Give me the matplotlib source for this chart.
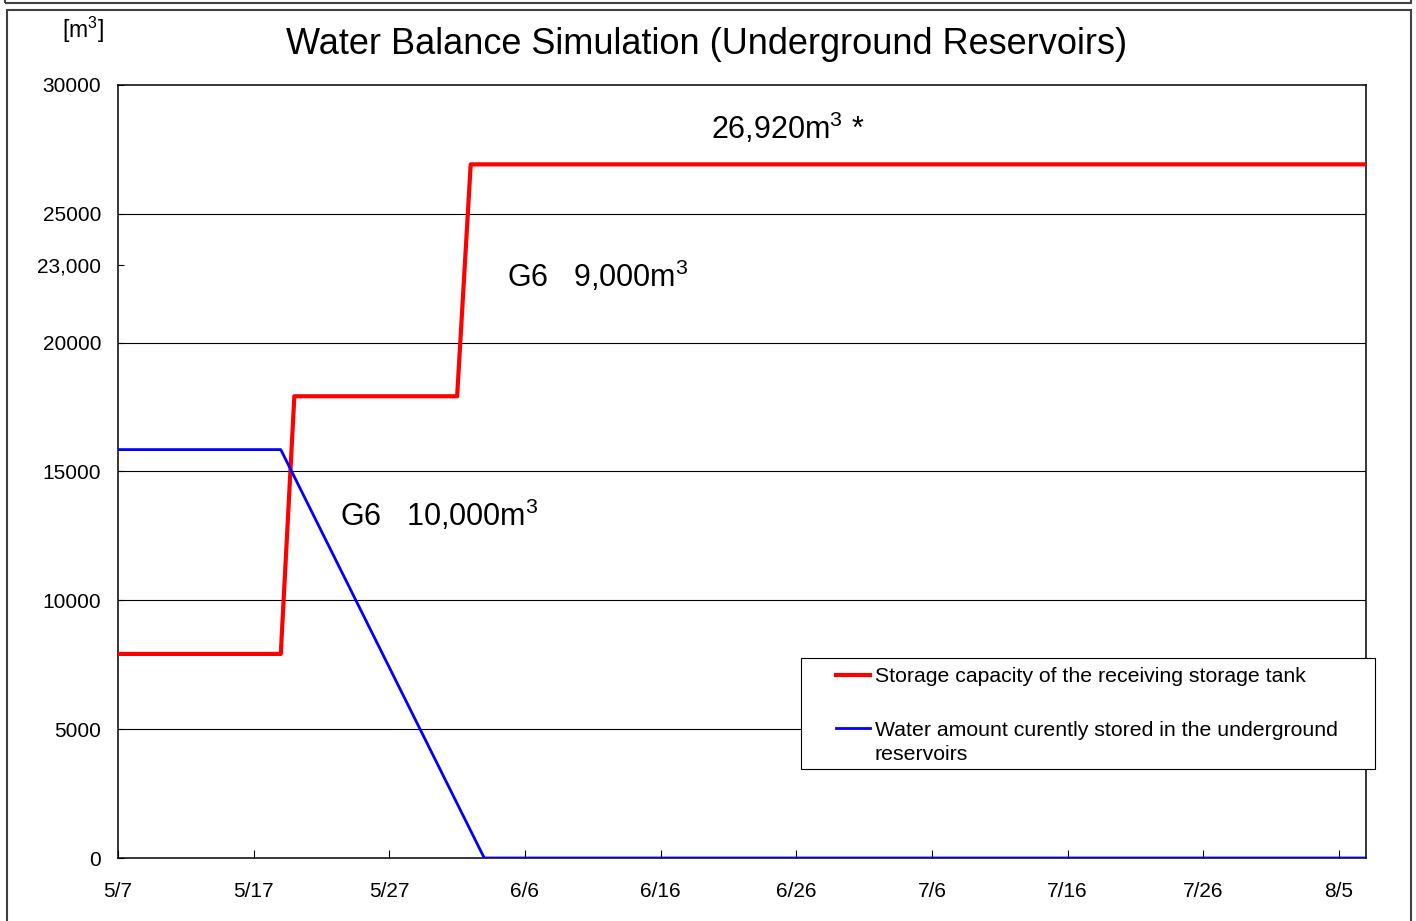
import matplotlib.pyplot as plt
from matplotlib.patches import Rectangle

plt.rcParams['font.family'] = ['Liberation Sans', 'DejaVu Sans']
plt.rcParams['mathtext.fontset'] = 'custom'
plt.rcParams['mathtext.rm'] = 'Liberation Sans'
plt.rcParams['mathtext.it'] = 'Liberation Sans'
plt.rcParams['mathtext.default'] = 'regular'

# dias contados a partir de 5/7
diasCapacidade = [0, 12, 13, 25, 26, 92]
capacidade = [7920, 7920, 17920, 17920, 26920, 26920]

diasArmazenado = [0, 12, 27, 92]
armazenado = [15850, 15850, 0, 0]

posTicksX = [0, 10, 20, 30, 40, 50, 60, 70, 80, 90]
rotulosX = ['5/7', '5/17', '5/27', '6/6', '6/16', '6/26', '7/6', '7/16', '7/26', '8/5']
posTicksY = [0, 5000, 10000, 15000, 20000, 23000, 25000, 30000]
rotulosY = ['0', '5000', '10000', '15000', '20000', '23,000', '25000', '30000']
linhasGrade = [5000, 10000, 15000, 20000, 25000]

nomeCapacidade = 'Storage capacity of the receiving storage tank'
nomeArmazenado = 'Water amount curently stored in the underground'
nomeArmazenado2 = 'reservoirs'

W, H = 1416, 921
fig = plt.figure(figsize=(W / 100, H / 100), dpi=100)
ax = fig.add_axes([118 / W, 1 - 858 / H, (1366 - 118) / W, (858 - 85) / H])

for g in linhasGrade:
    ax.axhline(g, color='black', linewidth=0.8, zorder=1)

l1, = ax.plot(diasCapacidade, capacidade, color='#ff0000', linewidth=3.0, label=nomeCapacidade, zorder=3)
l2, = ax.plot(diasArmazenado, armazenado, color='#0000ff', linewidth=2.0, label=nomeArmazenado, zorder=4)

ax.set_xlim(0, 92)
ax.set_ylim(0, 30000)
ax.set_xticks(posTicksX)
ax.set_xticklabels(rotulosX)
ax.set_yticks(posTicksY)
ax.set_yticklabels(rotulosY)
ax.tick_params(axis='x', direction='in', length=6, width=0.8, labelsize=15, pad=17)
ax.tick_params(axis='y', direction='in', length=4, width=0.8, labelsize=15, pad=12)
for s in ax.spines.values():
    s.set_linewidth(1.1)

ax.text(43.7, 28330, '26,920m$^3$ *', fontsize=22, va='center', ha='left')
ax.text(28.7, 22580, 'G6   9,000m$^3$', fontsize=22, va='center', ha='left')
ax.text(16.4, 13310, 'G6   10,000m$^3$', fontsize=22, va='center', ha='left')

# legenda sem moldura, moldura desenhada a parte
fig.patches.append(Rectangle((801 / W, 1 - 769 / H), (1375 - 801) / W, (769 - 658) / H,
                             transform=fig.transFigure, facecolor='white',
                             edgecolor='black', linewidth=0.8, zorder=5))
leg = fig.legend(handles=[l1, l2], loc='upper left', bbox_to_anchor=(836 / W, 1 - 667 / H),
                 borderaxespad=0, borderpad=0,
                 fontsize=15.3, frameon=False,
                 handlelength=1.6, handletextpad=0.22, labelspacing=1.63)
leg.set_zorder(6)
fig.text(875 / W, 1 - 754 / H, nomeArmazenado2, fontsize=15.3, ha='left', va='center', zorder=7)

fig.text(707 / W, 1 - 45 / H, 'Water Balance Simulation (Underground Reservoirs)',
         fontsize=26, ha='center', va='center')
fig.text(83 / W, 1 - 30 / H, '[m$^3$]', fontsize=16.5, ha='center', va='center')

# molduras externas
fig.patches.append(Rectangle((7 / W, -0.01), (1411 - 7) / W, 1 - 10 / H + 0.01,
                             transform=fig.transFigure, fill=False,
                             edgecolor='#404040', linewidth=1.5))
fig.patches.append(Rectangle((5 / W, 1 - 3 / H), (1411 - 5) / W, 0.01,
                             transform=fig.transFigure, fill=False,
                             edgecolor='#404040', linewidth=1.5))

fig.savefig('out.png', dpi=100)
